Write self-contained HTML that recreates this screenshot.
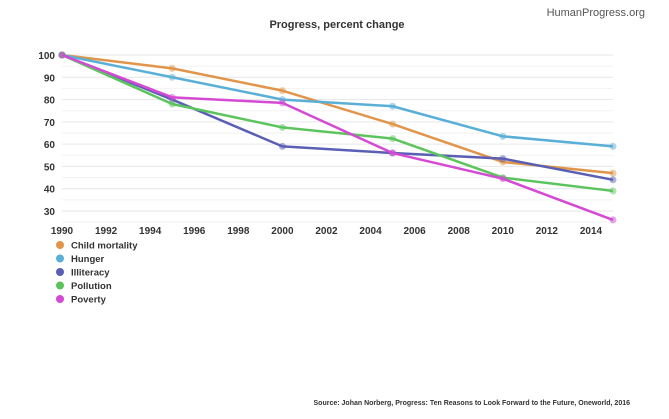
<!DOCTYPE html>
<html><head><meta charset="utf-8"><style>
body{margin:0;background:#fff;font-family:"Liberation Sans",sans-serif;}
svg text{font-family:"Liberation Sans",sans-serif;}
</style></head><body>
<svg width="669" height="414" id="c">
<text x="337" y="28" text-anchor="middle" font-size="11" font-weight="bold" fill="#333">Progress, percent change</text>
<text x="645" y="16" text-anchor="end" font-size="11" fill="#555">HumanProgress.org</text>
<text x="630" y="405" text-anchor="end" font-size="7" font-weight="bold" fill="#333">Source: Johan Norberg, Progress: Ten Reasons to Look Forward to the Future, Oneworld, 2016</text>
<g id="grid"></g><g id="axes"></g><g id="series"></g><g id="legend"></g>
</svg>
<script>
const years=[1990,1995,2000,2005,2010,2015];
const names=["Child mortality","Hunger","Illiteracy","Pollution","Poverty"];
const colors=["#e0954a","#5aafd6","#5a5fb5","#5cc45c","#d44ad4"];
const childMortality=[100,94,84,69,52,47];
const hunger=[100,90,80,77,63.5,59];
const illiteracy=[100,80,59,56,53.5,44];
const pollution=[100,78,67.5,62.5,45,39];
const poverty=[100,81,78.5,56,44.5,26];
const yTicks=[30,40,50,60,70,80,90,100];
const xTicks=[1990,1992,1994,1996,1998,2000,2002,2004,2006,2008,2010,2012,2014];
const series=[childMortality,hunger,illiteracy,pollution,poverty];
const NS="http://www.w3.org/2000/svg";
const x=v=>62+(v-1990)*(613-62)/25;
const y=v=>55+(100-v)*(211-55)/70;
function mk(tag,attrs,parent){const e=document.createElementNS(NS,tag);for(const k in attrs)e.setAttribute(k,attrs[k]);document.getElementById(parent).appendChild(e);return e;}
for(let v=25;v<=100;v+=5){const g=mk('line',{x1:62,x2:613,y1:y(v),y2:y(v),stroke:v%10?'#f2f2f2':'#e6e6e6','stroke-width':1},'grid');

}
yTicks.forEach(t=>{const e=mk('text',{x:55,y:y(t)+4,'text-anchor':'end','font-size':10,'font-weight':'bold',fill:'#333'},'axes');e.textContent=t;

});
xTicks.forEach(t=>{const e=mk('text',{x:x(t),y:234,'text-anchor':'middle','font-size':10,'font-weight':'bold',fill:'#333'},'axes');e.textContent=t;

});
series.forEach((s,i)=>{const p=mk('polyline',{points:s.map((v,j)=>x(years[j])+','+y(v)).join(' '),fill:'none',stroke:colors[i],'stroke-width':2.5,'stroke-linejoin':'round'},'series');


s.forEach((v,j)=>{const c=mk('circle',{cx:x(years[j]),cy:y(v),r:3.5,fill:colors[i],opacity:0.5},'series');

});
const ly=245+i*13.5;
const d=mk('circle',{cx:60,cy:ly,r:4,fill:colors[i]},'legend');


const t=mk('text',{x:71,y:ly+3.5,'font-size':9.5,'font-weight':'bold',fill:'#333'},'legend');t.textContent=names[i];

});
</script>
</body></html>
